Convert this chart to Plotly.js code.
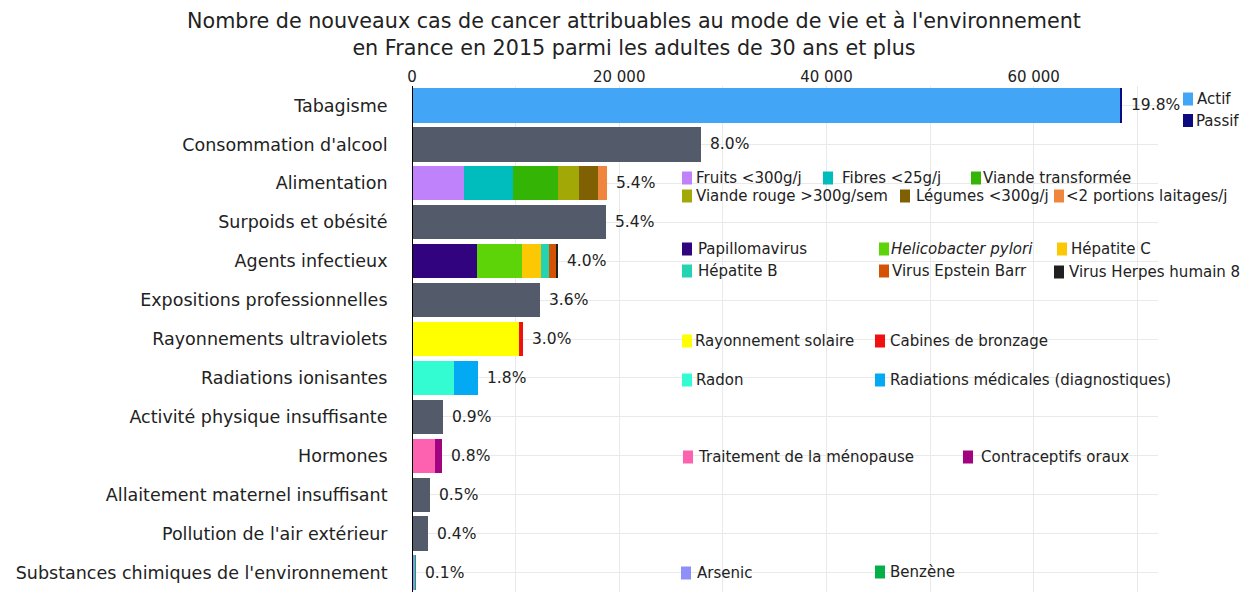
<!DOCTYPE html>
<html><head><meta charset="utf-8">
<script src="https://cdn.plot.ly/plotly-3.0.1.min.js"></script>
<style>html,body{margin:0;padding:0;background:#fff}</style>
</head><body><div id="chart" style="width:1249px;height:592px"></div>
<script>
// ---------- DATA ----------
const categories = ["Tabagisme","Consommation d'alcool","Alimentation","Surpoids et obésité","Agents infectieux","Expositions professionnelles","Rayonnements ultraviolets","Radiations ionisantes","Activité physique insuffisante","Hormones","Allaitement maternel insuffisant","Pollution de l'air extérieur","Substances chimiques de l'environnement"];
const pctLabels = ["19.8%","8.0%","5.4%","5.4%","4.0%","3.6%","3.0%","1.8%","0.9%","0.8%","0.5%","0.4%","0.1%"];

const singleCategories = ["Consommation d'alcool","Surpoids et obésité","Expositions professionnelles","Activité physique insuffisante","Allaitement maternel insuffisant","Pollution de l'air extérieur"];
const singleValues = [27860,18680,12340,2990,1740,1550];

const tabacLabels = ["Actif","Passif"];
const tabacValues = [68300,200];
const alimLabels = ["Fruits <300g/j","Fibres <25g/j","Viande transformée","Viande rouge >300g/sem","Légumes <300g/j","<2 portions laitages/j"];
const alimValues = [5000,4770,4330,2000,1840,860];
const infectLabels = ["Papillomavirus","<i>Helicobacter pylori</i>","Hépatite C","Hépatite B","Virus Epstein Barr","Virus Herpes humain 8"];
const infectValues = [6320,4340,1800,740,650,200];
const uvLabels = ["Rayonnement solaire","Cabines de bronzage"];
const uvValues = [10340,420];
const radLabels = ["Radon","Radiations médicales (diagnostiques)"];
const radValues = [4030,2350];
const hormLabels = ["Traitement de la ménopause","Contraceptifs oraux"];
const hormValues = [2220,650];
const chemLabels = ["Arsenic","Benzène"];
const chemValues = [360,20];

// ---------- STYLES ----------
const greyColor = "#535b6a";
const tabacColors = ["#42a5f5","#0b0b7e"];
const alimColors = ["#bf82fb","#00bdbd","#34b505","#a2a806","#7f6003","#f0853e"];
const infectColors = ["#32037e","#5cd407","#fcc804","#24d3b0","#d45206","#202020"];
const uvColors = ["#ffff00","#f01010"];
const radColors = ["#33fcd2","#03a9f2"];
const hormColors = ["#fc62b0","#a20381"];
const chemColors = ["#8e8ff7","#03b048"];

// legend placement (pixels: square left, centre y, text left)
const groups = [
  {cat:"Tabagisme", labels:tabacLabels, values:tabacValues, colors:tabacColors,
   pos:[[1183,99,1197],[1183,120.5,1196]]},
  {cat:"Alimentation", labels:alimLabels, values:alimValues, colors:alimColors,
   pos:[[682,178,696],[823,178,842],[971,178,983],[682,196,696],[900,196,916],[1054,196,1066]]},
  {cat:"Agents infectieux", labels:infectLabels, values:infectValues, colors:infectColors,
   pos:[[682,249,698],[879,249,891],[1057,249,1071],[682,271,698],[879,271,892],[1054,272,1069]]},
  {cat:"Rayonnements ultraviolets", labels:uvLabels, values:uvValues, colors:uvColors,
   pos:[[682,341,695],[875,341,890]]},
  {cat:"Radiations ionisantes", labels:radLabels, values:radValues, colors:radColors,
   pos:[[682,380,696],[875,380,890]]},
  {cat:"Hormones", labels:hormLabels, values:hormValues, colors:hormColors,
   pos:[[683,457,698],[963,457,981]]},
  {cat:"Substances chimiques de l'environnement", labels:chemLabels, values:chemValues, colors:chemColors,
   pos:[[681,573,697],[875,572,890]]}
];

// ---------- GEOMETRY ----------
const W = 1249, H = 592;
const M = {l:412, r:91, t:86, b:0};
const PW = W - M.l - M.r, PH = H - M.t - M.b;
const px2x = p => (p - M.l) / PW;
const py2y = p => (H - M.b - p) / PH;

const txtColor = "#222";
const fontFam = "DejaVu Sans, Verdana, sans-serif";

// ---------- TRACES ----------
const traces = [];
traces.push({type:"bar", orientation:"h", x:singleValues, y:singleCategories,
  marker:{color:greyColor, line:{width:0}}, showlegend:false, name:"",
  hovertemplate:"%{y}: %{x}<extra></extra>"});
groups.forEach(g => {
  g.values.forEach((v,i) => {
    traces.push({type:"bar", orientation:"h", x:[v], y:[g.cat],
      marker:{color:g.colors[i], line:{width:0}}, name:g.labels[i], showlegend:false,
      hovertemplate:g.labels[i]+": %{x}<extra></extra>"});
  });
});

// totals per category
const totals = {};
categories.forEach(c => totals[c] = 0);
singleCategories.forEach((c,i) => totals[c] += singleValues[i]);
groups.forEach(g => g.values.forEach(v => totals[g.cat] += v));

const annotations = [];
const shapes = [];
categories.forEach((c,i) => {
  annotations.push({x:totals[c], y:c, xref:"x", yref:"y", text:pctLabels[i],
    showarrow:false, xanchor:"left", yanchor:"middle", xshift:7,
    font:{size:15.5, color:txtColor, family:fontFam}});
});
groups.forEach(g => {
  g.labels.forEach((lab,i) => {
    const [sx, cy, tx] = g.pos[i];
    shapes.push({type:"rect", xref:"paper", yref:"paper",
      x0:px2x(sx), x1:px2x(sx+10), y0:py2y(cy+6.5), y1:py2y(cy-6.5),
      fillcolor:g.colors[i], line:{width:0}, layer:"above"});
    annotations.push({xref:"paper", yref:"paper", x:px2x(tx-2), y:py2y(cy),
      text:lab, showarrow:false, xanchor:"left", yanchor:"middle",
      font:{size:15, color:txtColor, family:fontFam}});
  });
});
shapes.push({type:"line", xref:"x", yref:"paper", x0:0, x1:0, y0:0, y1:1,
  line:{color:"#000", width:2}, layer:"above"});

const layout = {
  width:W, height:H, margin:M,
  paper_bgcolor:"#fff", plot_bgcolor:"#fff",
  separators:", ",
  font:{family:fontFam, color:txtColor},
  title:{text:"Nombre de nouveaux cas de cancer attribuables au mode de vie et à l'environnement<br>en France en 2015 parmi les adultes de 30 ans et plus",
    x:634/W, xref:"container", xanchor:"center", y:1-28/H, yref:"container", yanchor:"top",
    font:{size:20.7, color:txtColor, family:fontFam}},
  barmode:"stack", bargap:0.12,
  xaxis:{side:"top", range:[0,72000], tick0:0, dtick:20000, tickformat:",d", showgrid:true, gridcolor:"#e9e9e9",
    minor:{dtick:10000, showgrid:true, gridcolor:"#e9e9e9"},
    zeroline:false, showline:false, ticks:"", tickfont:{size:15, color:txtColor}, automargin:false, fixedrange:true},
  yaxis:{type:"category", categoryarray:categories, categoryorder:"array", autorange:"reversed",
    showgrid:true, gridcolor:"#e9e9e9", zeroline:false, showline:false,
    ticks:"outside", ticklen:20, tickcolor:"rgba(0,0,0,0)",
    tickfont:{size:17.5, color:txtColor}, automargin:false, fixedrange:true},
  annotations:annotations, shapes:shapes, showlegend:false
};
Plotly.newPlot("chart", traces, layout, {displayModeBar:false, responsive:false});
</script></body></html>
